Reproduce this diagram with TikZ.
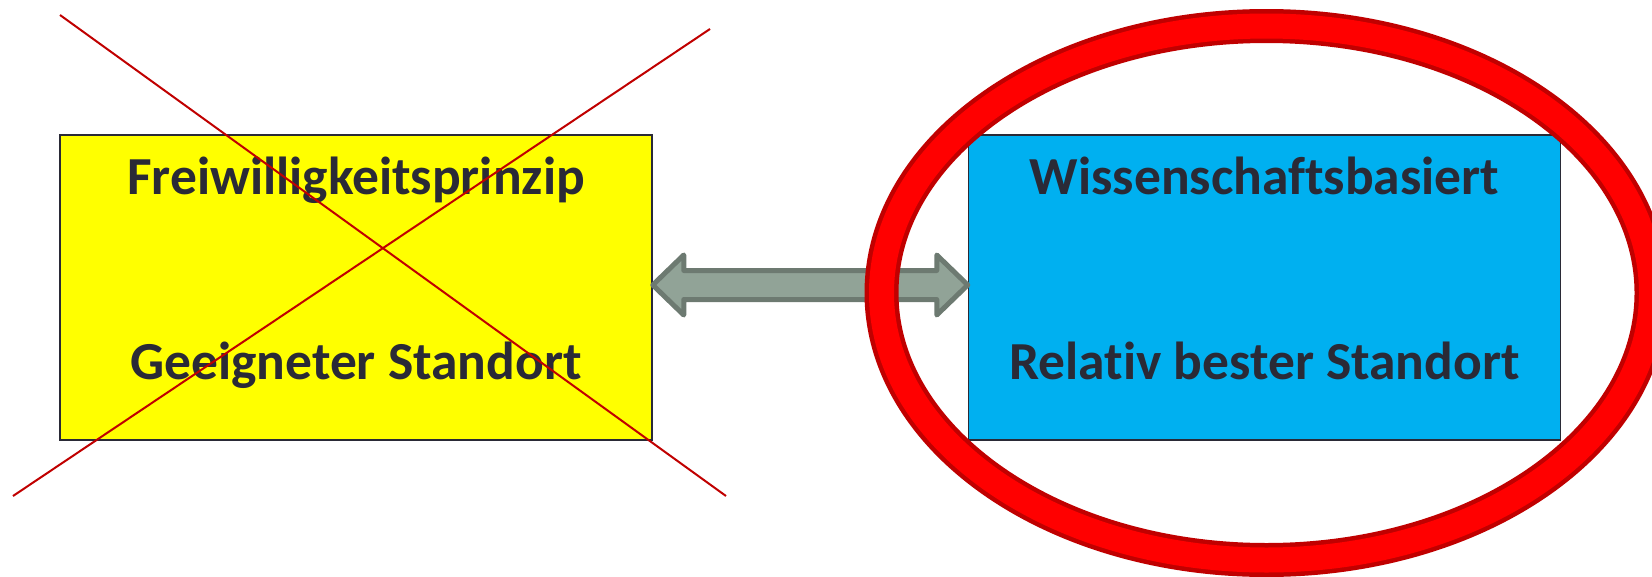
\documentclass[tikz,border=0pt]{standalone}
\usepackage{fontspec}
\setmainfont{Carlito}[Ligatures=NoCommon]
\usepackage{tikz}
\usetikzlibrary{positioning}
\definecolor{boxyellow}{HTML}{FFFF00}
\definecolor{boxblue}{HTML}{00B0F0}
\definecolor{textdark}{HTML}{2A2A36}
\definecolor{crossred}{HTML}{C00000}
\definecolor{ringred}{HTML}{FF0000}
\definecolor{arrowfill}{HTML}{91A397}
\definecolor{arrowdraw}{HTML}{6D7A71}
\tikzset{
     box/.style={fill=#1, draw=textdark, line width=1.5pt, rectangle,
                 minimum width=592pt, minimum height=305pt},
     lbl/.style={text=textdark, anchor=base, inner sep=0pt,
                 font=\fontsize{53.5}{60}\selectfont\bfseries},
     blockarrow/.style={fill=arrowfill, draw=arrowdraw, line width=5pt, line join=round},
     cross/.style={draw=crossred, line width=2pt},
     ringout/.style={draw=crossred, line width=34pt},
     ringin/.style={draw=ringred, line width=25pt},
}
\def\ux{1pt}
\def\uy{-1pt}

\begin{document}
\begin{tikzpicture}[x=\ux,y=\uy]
		\useasboundingbox (0,0) rectangle (1652,576);
		\clip (0,0) rectangle (1652,576);

		% boxes
		\node[box=boxyellow] (free) at (356,287.5) {};
		\node[box=boxblue, right=315pt of free] (wiss) {};

		\node[lbl] (freetop) at ([yshift=-60pt]free.north) {Freiwilligkeitsprinzip};
		\node[lbl] (freebot) at ([yshift=61pt]free.south) {Geeigneter Standort};
		\node[lbl] (wisstop) at ([yshift=-60pt]wiss.north) {Wissenschaftsbasiert};
		\node[lbl] (wissbot) at ([yshift=61pt]wiss.south) {Relativ bester Standort};

		% crossed out
		\draw[cross] (60,15) -- (726,496);
		\draw[cross] (13,496) -- (710,29);

		% double block arrow
		\coordinate (tipl) at ([yshift=2.5pt]free.east);
		\coordinate (tipr) at ([yshift=2.5pt]wiss.west);
		\draw[blockarrow] (tipl) -- ([shift={(31,-30)}]tipl) -- ([shift={(31,-14.5)}]tipl)
		  -- ([shift={(-31,-14.5)}]tipr) -- ([shift={(-31,-30)}]tipr) -- (tipr)
		  -- ([shift={(-31,30)}]tipr) -- ([shift={(-31,14.5)}]tipr)
		  -- ([shift={(31,14.5)}]tipl) -- ([shift={(31,30)}]tipl) -- cycle;

		% ring
		\coordinate (ringc) at ([shift={(2,5.5)}]wiss.center);
		\draw[ringout] (ringc) ellipse [x radius=385pt, y radius=267pt];
		\draw[ringin] (ringc) ellipse [x radius=385pt, y radius=267pt];
\end{tikzpicture}
\end{document}
